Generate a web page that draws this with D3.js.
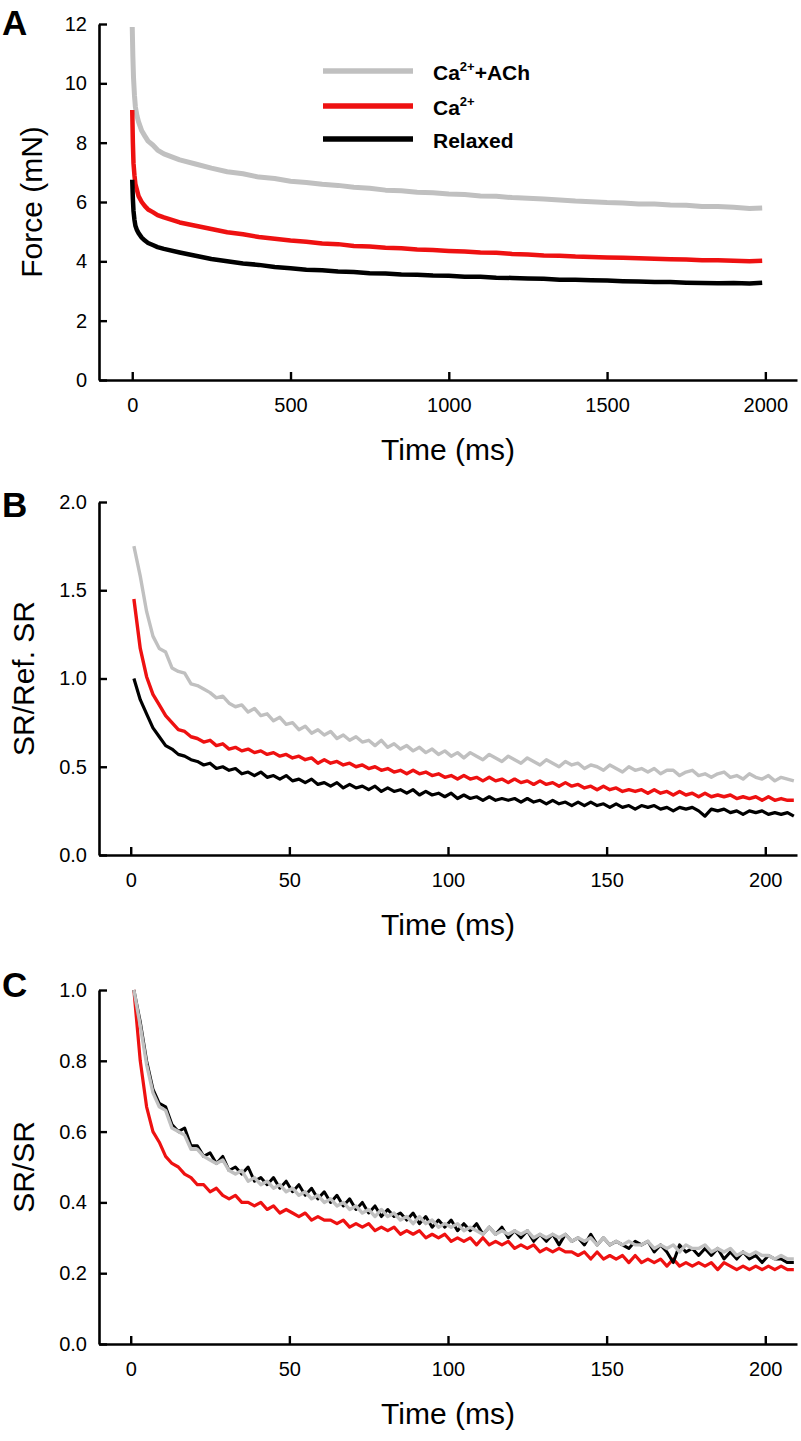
<!DOCTYPE html>
<html><head><meta charset="utf-8">
<script src="https://cdn.jsdelivr.net/npm/d3@7"></script>
<style>
body{margin:0;background:#fff}
text{font-family:"Liberation Sans",Arial,Helvetica,sans-serif;fill:#000}
</style>
</head><body>
<svg id="chart" width="801" height="1441"></svg>
<script>
// ---------- data ----------
const seriesKeys = ["ach", "ca", "relaxed"];
const seriesColors = {ach: "#c0c0c0", ca: "#ee1111", relaxed: "#000000"};

// Panel A: force (mN) vs time (ms)
const timeA = [0,2,4,7,10,15,20,30,40,50,65,80,100,150,200,250,300,350,400,450,500,550,600,650,700,750,800,850,900,950,1000,1050,1100,1150,1200,1250,1300,1350,1400,1450,1500,1550,1600,1650,1700,1750,1800,1850,1900,1950,1990];
const forceAch = [11.9,10.9,10.2,9.6,9.2,8.9,8.7,8.4,8.22,8.05,7.92,7.75,7.62,7.42,7.28,7.14,7.02,6.95,6.84,6.79,6.7,6.66,6.6,6.56,6.5,6.46,6.4,6.38,6.33,6.31,6.27,6.25,6.2,6.19,6.15,6.13,6.1,6.07,6.03,6.01,5.98,5.97,5.93,5.93,5.9,5.89,5.85,5.85,5.82,5.78,5.8];
const forceCa = [9.1,8.0,7.3,6.9,6.6,6.4,6.2,6.0,5.86,5.75,5.66,5.56,5.48,5.31,5.2,5.09,4.98,4.91,4.82,4.76,4.7,4.66,4.6,4.58,4.52,4.5,4.46,4.44,4.4,4.38,4.35,4.33,4.3,4.29,4.25,4.23,4.2,4.19,4.16,4.15,4.13,4.12,4.1,4.09,4.07,4.06,4.04,4.04,4.02,4.0,4.02];
const forceRelaxed = [6.75,6.1,5.7,5.4,5.2,5.05,4.95,4.8,4.7,4.62,4.55,4.48,4.42,4.3,4.19,4.08,4.0,3.93,3.88,3.81,3.77,3.72,3.7,3.66,3.64,3.6,3.59,3.56,3.55,3.52,3.51,3.48,3.48,3.45,3.44,3.42,3.41,3.38,3.38,3.36,3.35,3.33,3.32,3.3,3.3,3.28,3.27,3.26,3.27,3.25,3.28];

// Panels B and C: sampled every 2 ms from 1 to 209 ms
const timeBC = d3.range(1, 210, 2);
const srAch = [1.75,1.58,1.38,1.24,1.17,1.15,1.06,1.04,1.03,0.97, 0.96,0.94,0.92,0.89,0.90,0.86,0.84,0.85,0.81,0.83, 0.79,0.80,0.76,0.78,0.74,0.75,0.71,0.73,0.69,0.71, 0.68,0.70,0.66,0.68,0.65,0.67,0.64,0.65,0.62,0.65, 0.61,0.63,0.60,0.62,0.59,0.61,0.58,0.60,0.57,0.59, 0.56,0.58,0.55,0.58,0.56,0.54,0.57,0.55,0.53,0.56, 0.54,0.52,0.55,0.53,0.51,0.54,0.52,0.50,0.53,0.51, 0.52,0.49,0.51,0.50,0.48,0.51,0.49,0.47,0.50,0.48, 0.49,0.47,0.49,0.46,0.48,0.48,0.45,0.47,0.48,0.45, 0.46,0.44,0.46,0.47,0.44,0.45,0.43,0.46,0.44,0.43, 0.45,0.42,0.44,0.43,0.42];
const srCa = [1.45,1.17,1.01,0.91,0.85,0.79,0.75,0.71,0.70,0.67, 0.66,0.64,0.65,0.62,0.63,0.60,0.61,0.59,0.60,0.58, 0.59,0.57,0.58,0.56,0.57,0.55,0.56,0.54,0.55,0.52, 0.54,0.52,0.53,0.51,0.52,0.50,0.51,0.49,0.50,0.48, 0.49,0.47,0.48,0.46,0.48,0.46,0.47,0.45,0.46,0.44, 0.45,0.43,0.45,0.43,0.44,0.42,0.44,0.42,0.43,0.41, 0.43,0.41,0.42,0.40,0.42,0.40,0.41,0.39,0.41,0.39, 0.40,0.38,0.39,0.37,0.39,0.37,0.38,0.36,0.37,0.36, 0.37,0.35,0.37,0.35,0.36,0.34,0.36,0.34,0.35,0.33, 0.35,0.33,0.34,0.33,0.34,0.32,0.33,0.32,0.33,0.31, 0.33,0.31,0.32,0.31,0.31];
const srRelaxed = [1.00,0.88,0.80,0.72,0.67,0.62,0.60,0.57,0.56,0.54, 0.53,0.51,0.52,0.49,0.50,0.48,0.49,0.46,0.47,0.45, 0.47,0.44,0.45,0.43,0.45,0.42,0.43,0.41,0.43,0.40, 0.41,0.39,0.41,0.38,0.40,0.38,0.39,0.37,0.39,0.36, 0.38,0.36,0.37,0.35,0.37,0.34,0.36,0.34,0.35,0.33, 0.35,0.32,0.34,0.32,0.33,0.31,0.33,0.31,0.32,0.31, 0.32,0.30,0.32,0.30,0.31,0.29,0.31,0.29,0.30,0.28, 0.30,0.28,0.30,0.28,0.29,0.27,0.29,0.27,0.28,0.26, 0.28,0.27,0.28,0.26,0.27,0.25,0.27,0.26,0.27,0.25, 0.22,0.26,0.25,0.26,0.24,0.25,0.23,0.25,0.24,0.25, 0.23,0.24,0.23,0.24,0.22];
const normAch = [1.00,0.90,0.79,0.71,0.67,0.66,0.61,0.60,0.59,0.55, 0.55,0.53,0.52,0.51,0.52,0.49,0.48,0.49,0.46,0.47, 0.45,0.46,0.44,0.45,0.43,0.44,0.42,0.43,0.41,0.42, 0.40,0.41,0.39,0.40,0.38,0.39,0.37,0.38,0.36,0.38, 0.36,0.37,0.35,0.36,0.34,0.36,0.34,0.35,0.33,0.34, 0.33,0.34,0.32,0.33,0.32,0.31,0.33,0.31,0.32,0.31, 0.32,0.31,0.32,0.30,0.31,0.30,0.31,0.30,0.31,0.29, 0.30,0.29,0.30,0.28,0.30,0.28,0.29,0.28,0.29,0.28, 0.28,0.29,0.27,0.28,0.27,0.28,0.26,0.28,0.27,0.27, 0.28,0.26,0.27,0.26,0.27,0.25,0.26,0.25,0.26,0.25, 0.25,0.24,0.25,0.24,0.24];
const normCa = [1.00,0.80,0.67,0.60,0.57,0.53,0.51,0.50,0.48,0.47, 0.45,0.45,0.43,0.44,0.42,0.41,0.42,0.40,0.40,0.39, 0.40,0.38,0.39,0.37,0.38,0.37,0.36,0.37,0.35,0.36, 0.35,0.35,0.34,0.35,0.33,0.34,0.33,0.34,0.32,0.33, 0.32,0.33,0.31,0.32,0.31,0.32,0.30,0.31,0.30,0.31, 0.29,0.30,0.29,0.30,0.28,0.30,0.28,0.29,0.28,0.29, 0.27,0.28,0.27,0.28,0.26,0.27,0.26,0.27,0.26,0.26, 0.25,0.26,0.24,0.26,0.24,0.25,0.24,0.25,0.23,0.25, 0.23,0.24,0.23,0.24,0.22,0.24,0.22,0.23,0.22,0.23, 0.22,0.23,0.21,0.23,0.22,0.21,0.22,0.21,0.22,0.21, 0.22,0.21,0.22,0.21,0.21];
const normRelaxed = [1.00,0.91,0.80,0.72,0.68,0.67,0.62,0.60,0.61,0.56, 0.56,0.53,0.54,0.51,0.53,0.49,0.50,0.48,0.50,0.46, 0.47,0.45,0.47,0.44,0.46,0.43,0.45,0.42,0.44,0.41, 0.43,0.40,0.42,0.39,0.41,0.38,0.40,0.37,0.39,0.36, 0.38,0.36,0.37,0.35,0.37,0.34,0.36,0.33,0.35,0.33, 0.35,0.32,0.34,0.32,0.34,0.31,0.33,0.31,0.33,0.30, 0.32,0.30,0.32,0.29,0.31,0.29,0.31,0.28,0.31,0.29, 0.30,0.28,0.31,0.28,0.30,0.28,0.29,0.28,0.27,0.29, 0.28,0.29,0.26,0.28,0.26,0.23,0.28,0.26,0.27,0.25, 0.27,0.25,0.27,0.24,0.26,0.24,0.26,0.24,0.25,0.23, 0.25,0.24,0.24,0.23,0.23];

// tick values
const ticksAx = [0, 500, 1000, 1500, 2000];
const ticksAy = [0, 2, 4, 6, 8, 10, 12];
const ticksBx = [0, 50, 100, 150, 200];
const ticksBy = [0, 0.5, 1.0, 1.5, 2.0];
const ticksCx = [0, 50, 100, 150, 200];
const ticksCy = [0, 0.2, 0.4, 0.6, 0.8, 1.0];

// ---------- drawing ----------
const svg = d3.select("#chart");
const X0 = 99, X1 = 797;

function panel(o) {
  const g = svg.append("g");
  const x = d3.scaleLinear().domain(o.xDomain).range([X0, X1]);
  const y = d3.scaleLinear().domain(o.yDomain).range([o.yBottom, o.yTop]);

  o.series.forEach(s => {
    const line = d3.line().x((d, i) => x(s.t[i])).y(d => y(d));
    g.append("path").datum(s.v)
      .attr("d", line)
      .attr("fill", "none")
      .attr("stroke", seriesColors[s.key])
      .attr("stroke-width", s.w)
      .attr("stroke-linejoin", "round")
      .attr("stroke-linecap", "butt");
  });

  const ax = g.append("g").attr("transform", `translate(0,${o.yBottom})`)
    .call(d3.axisBottom(x).tickValues(o.xTicks).tickSizeInner(-8).tickSizeOuter(0).tickPadding(18).tickFormat(d3.format("d")));
  const ay = g.append("g").attr("transform", `translate(${X0},0)`)
    .call(d3.axisLeft(y).tickValues(o.yTicks).tickSizeInner(-8).tickSizeOuter(0).tickPadding(12).tickFormat(o.yFmt));
  [ax, ay].forEach(a => {
    a.selectAll("path.domain").attr("stroke", "#000").attr("stroke-width", 2.6);
    a.selectAll(".tick line").attr("stroke", "#000").attr("stroke-width", 2.4);
    a.selectAll(".tick text").attr("font-size", 20).attr("font-family", "'Liberation Sans',Arial,sans-serif").attr("fill", "#000");
  });

  g.append("text").attr("x", (X0 + X1) / 2).attr("y", o.yBottom + 80)
    .attr("text-anchor", "middle").attr("font-size", 30).text("Time (ms)");
  g.append("text")
    .attr("transform", `translate(${o.yLabelX},${(o.yBottom + o.yTop) / 2}) rotate(-90)`)
    .attr("text-anchor", "middle").attr("font-size", 30).text(o.yLabel);
  g.append("text").attr("x", 2).attr("y", o.letterY)
    .attr("font-size", 35).attr("font-weight", "bold").text(o.letter);
}

panel({
  letter: "A", letterY: 35,
  xDomain: [-105, 2100], yDomain: [0, 12], yBottom: 380, yTop: 24,
  xTicks: ticksAx, yTicks: ticksAy, yFmt: d3.format("d"),
  yLabel: "Force (mN)", yLabelX: 42,
  series: [
    {key: "ach", t: timeA, v: forceAch, w: 5},
    {key: "ca", t: timeA, v: forceCa, w: 4.5},
    {key: "relaxed", t: timeA, v: forceRelaxed, w: 4.5}
  ]
});

panel({
  letter: "B", letterY: 517,
  xDomain: [-10, 210], yDomain: [0, 2], yBottom: 855, yTop: 502,
  xTicks: ticksBx, yTicks: ticksBy, yFmt: d3.format(".1f"),
  yLabel: "SR/Ref. SR", yLabelX: 34,
  series: [
    {key: "ach", t: timeBC, v: srAch, w: 3.4},
    {key: "ca", t: timeBC, v: srCa, w: 3.4},
    {key: "relaxed", t: timeBC, v: srRelaxed, w: 3.2}
  ]
});

panel({
  letter: "C", letterY: 997,
  xDomain: [-10, 210], yDomain: [0, 1], yBottom: 1344, yTop: 990,
  xTicks: ticksCx, yTicks: ticksCy, yFmt: d3.format(".1f"),
  yLabel: "SR/SR", yLabelX: 34,
  series: [
    {key: "ca", t: timeBC, v: normCa, w: 3.2},
    {key: "relaxed", t: timeBC, v: normRelaxed, w: 3},
    {key: "ach", t: timeBC, v: normAch, w: 3.4}
  ]
});

// legend (panel A)
const legendItems = [
  {key: "ach", y: 71, base: "Ca", sup: "2+", rest: "+ACh"},
  {key: "ca", y: 106, base: "Ca", sup: "2+", rest: ""},
  {key: "relaxed", y: 139, base: "Relaxed", sup: "", rest: ""}
];
const lg = svg.append("g");
legendItems.forEach(it => {
  lg.append("line").attr("x1", 323).attr("x2", 413).attr("y1", it.y).attr("y2", it.y)
    .attr("stroke", seriesColors[it.key]).attr("stroke-width", 5.5);
  const t = lg.append("text").attr("x", 433).attr("y", it.y + 9)
    .attr("font-size", 21).attr("font-weight", "bold");
  t.append("tspan").text(it.base);
  if (it.sup) t.append("tspan").attr("font-size", 13).attr("dy", -9).text(it.sup);
  if (it.rest) t.append("tspan").attr("dy", 9).text(it.rest);
});
</script>
</body></html>
